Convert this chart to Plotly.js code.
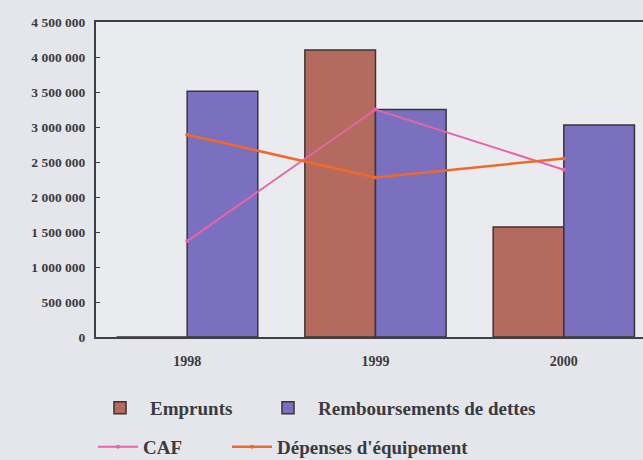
<!DOCTYPE html>
<html>
<head>
<meta charset="utf-8">
<script src="https://cdn.plot.ly/plotly-3.0.1.min.js"></script>
<style>
html,body{margin:0;padding:0;width:643px;height:460px;overflow:hidden;background:#e5e6eb;}
#chart{width:680px;height:460px;}
</style>
</head>
<body>
<div id="chart"></div>
<script>
var years = ['1998', '1999', '2000'];
var emprunts = [0, 4100000, 1570000];
var remboursements = [3510000, 3250000, 3030000];
var caf = [1370000, 3250000, 2390000];
var depenses = [2890000, 2280000, 2550000];
var yTickVals = [0, 500000, 1000000, 1500000, 2000000, 2500000, 3000000, 3500000, 4000000, 4500000];
var yTickText = ['0', '500 000', '1 000 000', '1 500 000', '2 000 000', '2 500 000', '3 000 000', '3 500 000', '4 000 000', '4 500 000'];

var serif = 'Liberation Serif, Times New Roman, serif';
var W = 680, H = 460;
var traces = [
  {type: 'bar', name: 'Emprunts', x: years, y: emprunts,
   marker: {color: '#b56a5f', line: {color: '#3a3436', width: 1.5}}, legend: 'legend'},
  {type: 'bar', name: 'Remboursements de dettes', x: years, y: remboursements,
   marker: {color: '#7a70bf', line: {color: '#3a3436', width: 1.5}}, legend: 'legend2'},
  {type: 'scatter', mode: 'lines+markers', name: 'CAF', x: years, y: caf,
   line: {color: '#e466a6', width: 2}, marker: {color: '#e466a6', size: 4}, legend: 'legend3'},
  {type: 'scatter', mode: 'lines+markers', name: "Dépenses d'équipement", x: years, y: depenses,
   line: {color: '#f0692c', width: 2.5}, marker: {color: '#f0692c', size: 4}, legend: 'legend4'}
];

function leg(x, y, iw) {
  return {
    orientation: 'h', xref: 'container', yref: 'container',
    x: x / W, xanchor: 'left', y: (H - y) / H, yanchor: 'middle',
    bgcolor: 'rgba(0,0,0,0)', itemwidth: iw,
    font: {family: serif, size: 19, color: '#3a3a40', weight: 'bold'}
  };
}

var layout = {
  width: W, height: H,
  margin: {l: 96, r: 21.5, t: 22, b: 123},
  paper_bgcolor: '#e5e6eb',
  plot_bgcolor: '#eaebef',
  barmode: 'group',
  bargap: 0.25,
  bargroupgap: 0,
  font: {family: serif, color: '#333'},
  xaxis: {
    type: 'category', range: [-0.484, 2.5],
    showline: true, linecolor: '#3e4048', linewidth: 2, mirror: true,
    ticks: '', showgrid: false,
    tickfont: {family: serif, size: 14, color: '#3a3a40', weight: 'bold'},
    ticklabelstandoff: 10
  },
  yaxis: {
    range: [0, 4500000], tickvals: yTickVals, ticktext: yTickText,
    showline: true, linecolor: '#3e4048', linewidth: 2, mirror: true,
    ticks: 'inside', ticklen: 4, tickcolor: '#3e4048', showgrid: false, zeroline: false,
    tickfont: {family: serif, size: 13.5, color: '#3a3a40', weight: 'bold'},
    ticklabelstandoff: 6
  },
  showlegend: true,
  legend: leg(90, 408, 50),
  legend2: leg(258, 408, 50),
  legend3: leg(93, 447, 40),
  legend4: leg(227, 447, 40)
};

Plotly.newPlot('chart', traces, layout, {displayModeBar: false, staticPlot: true});
</script>
</body>
</html>
